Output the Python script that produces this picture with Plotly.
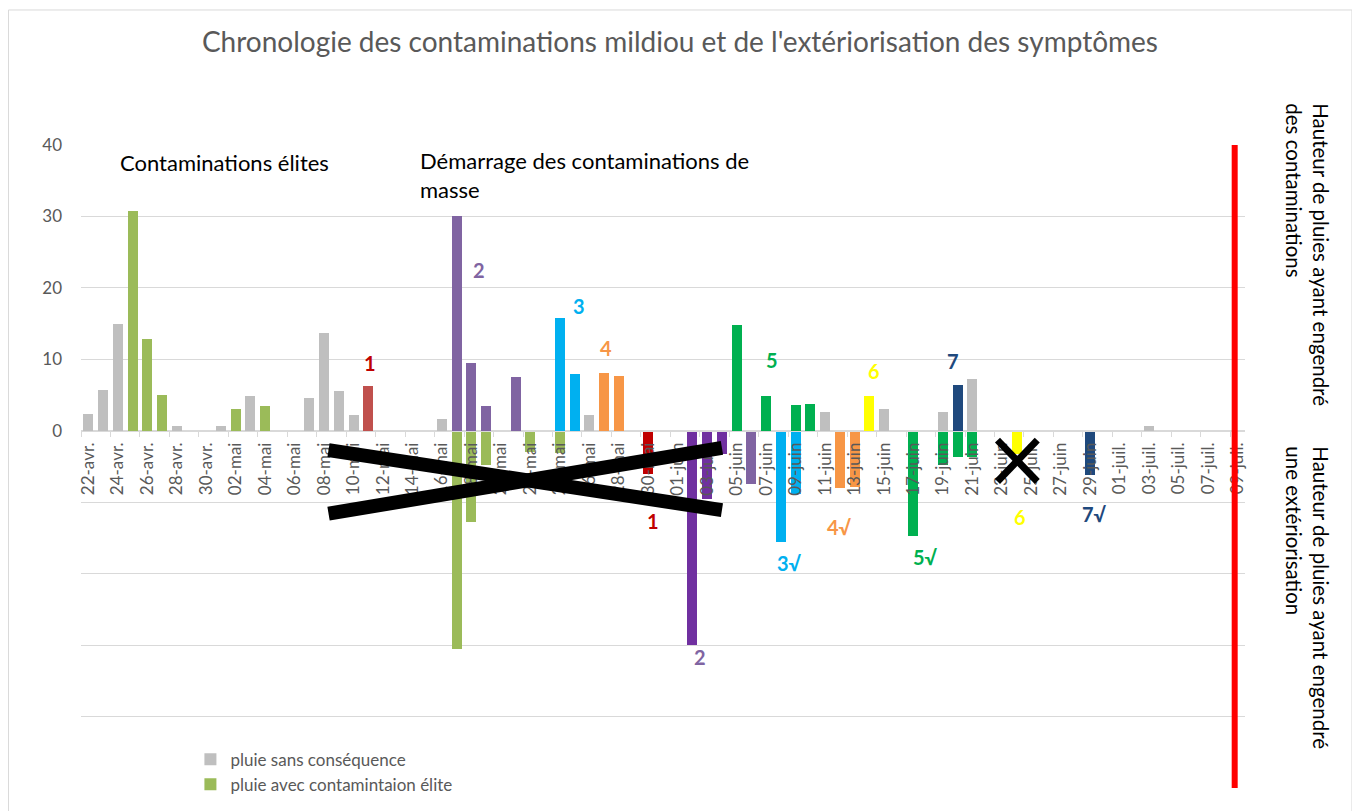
import plotly.graph_objects as go

# ---- categories (daily, 22-avr. -> 09-juil.) ----
categories = ([f"{d:02d}-avr." for d in range(22, 31)] +
              [f"{d:02d}-mai" for d in range(1, 32)] +
              [f"{d:02d}-juin" for d in range(1, 31)] +
              [f"{d:02d}-juil." for d in range(1, 10)])
tick_labels = categories[::2]

# ---- series ----
gray_dates = ["22-avr.", "23-avr.", "24-avr.", "28-avr.", "01-mai", "03-mai", "07-mai", "08-mai",
              "09-mai", "10-mai", "16-mai", "26-mai", "11-juin", "15-juin", "19-juin", "21-juin", "03-juil."]
gray_vals = [2.3, 5.7, 15.0, 0.6, 0.6, 4.9, 4.6, 13.7, 5.5, 2.2, 1.6, 2.2, 2.6, 3.1, 2.6, 7.3, 0.7]

elite_dates = ["25-avr.", "26-avr.", "27-avr.", "02-mai", "04-mai"]
elite_vals = [30.7, 12.8, 5.0, 3.1, 3.4]
elite_neg_dates = ["17-mai", "18-mai", "19-mai", "22-mai", "24-mai"]
elite_neg_vals = [-30.6, -12.7, -4.8, -3.0, -3.1]

c1_dates, c1_vals = ["11-mai"], [6.3]
c1s_dates, c1s_vals = ["30-mai"], [-6.1]
c2_dates, c2_vals = ["17-mai", "18-mai", "19-mai", "21-mai"], [30.1, 9.5, 3.4, 7.5]
c2s_dates, c2s_vals = ["02-juin", "03-juin", "04-juin"], [-30.0, -9.5, -3.2]
c2s_b_dates, c2s_b_vals = ["06-juin"], [-7.4]
c3_dates, c3_vals = ["24-mai", "25-mai"], [15.8, 8.0]
c3s_dates, c3s_vals = ["08-juin", "09-juin"], [-15.6, -8.8]
c4_dates, c4_vals = ["27-mai", "28-mai"], [8.1, 7.7]
c4s_dates, c4s_vals = ["12-juin", "13-juin"], [-8.0, -7.8]
c5_dates, c5_vals = ["05-juin", "07-juin", "09-juin", "10-juin"], [14.8, 4.9, 3.6, 3.8]
c5s_dates, c5s_vals = ["17-juin", "19-juin", "20-juin", "21-juin"], [-14.7, -4.8, -3.6, -3.6]
c6_dates, c6_vals = ["14-juin"], [4.9]
c6s_dates, c6s_vals = ["24-juin"], [-3.2]
c7_dates, c7_vals = ["20-juin"], [6.4]
c7s_dates, c7s_vals = ["29-juin"], [-6.2]

GRAY = "#BFBFBF"
ELITE = "#9BBB59"
FONT = "Lato"
TXT = "#595959"

idx = {c: i for i, c in enumerate(categories)}

fig = go.Figure()


def add(dates, vals, color, name=None, legend=False):
    fig.add_trace(go.Bar(
        x=[idx[d] for d in dates], y=vals, width=0.68,
        marker=dict(color=color, line=dict(width=0)),
        name=name if name else "", showlegend=legend,
        hovertemplate="%{y}<extra></extra>"))


add(gray_dates, gray_vals, GRAY, "pluie sans conséquence", True)
add(elite_dates, elite_vals, ELITE, "pluie avec contamintaion élite", True)
add(elite_neg_dates, elite_neg_vals, ELITE)
add(c1_dates, c1_vals, "#C0504D")
add(c1s_dates, c1s_vals, "#C00000")
add(c2_dates, c2_vals, "#8064A2")
add(c2s_dates, c2s_vals, "#7030A0")
add(c2s_b_dates, c2s_b_vals, "#8064A2")
add(c3_dates, c3_vals, "#00B0F0")
add(c3s_dates, c3s_vals, "#00B0F0")
add(c4_dates, c4_vals, "#F79646")
add(c4s_dates, c4s_vals, "#F79646")
add(c5_dates, c5_vals, "#00B050")
add(c5s_dates, c5s_vals, "#00B050")
add(c6_dates, c6_vals, "#FFFF00")
add(c6s_dates, c6s_vals, "#FFFF00")
add(c7_dates, c7_vals, "#1F497D")
add(c7s_dates, c7s_vals, "#1F497D")

# ---- number labels ----
labels = [
    ("1", 19.1, 9.5, "#C00000"), ("2", 26.5, 22.5, "#8064A2"), ("3", 33.3, 17.5, "#00B0F0"),
    ("4", 35.1, 11.6, "#F79646"), ("5", 46.4, 9.9, "#00B050"), ("6", 53.3, 8.3, "#FFFF00"),
    ("7", 58.7, 9.7, "#1F497D"),
    ("1", 38.3, -12.6, "#C00000"), ("2", 41.5, -31.6, "#8064A2"), ("3√", 47.6, -18.5, "#00B0F0"),
    ("4√", 51.0, -13.4, "#F79646"), ("5√", 56.8, -17.6, "#00B050"), ("6", 63.2, -12.0, "#FFFF00"),
    ("7√", 68.3, -11.7, "#1F497D"),
]
for t, x, y, c in labels:
    fig.add_annotation(x=x, y=y, text=f"<b>{t}</b>", showarrow=False,
                       font=dict(family=FONT, size=20, color=c))

fig.add_annotation(x=2.0, y=37.6, xanchor="left", yanchor="middle", text="Contaminations élites",
                   showarrow=False, font=dict(family=FONT, size=22, color="black"))
fig.add_annotation(x=22.4, y=35.8, xanchor="left", yanchor="middle", align="left",
                   text="Démarrage des contaminations de<br>masse", showarrow=False,
                   font=dict(family=FONT, size=22, color="black"))

fig.add_annotation(xref="paper", yref="paper", x=1.053, y=0.829, xanchor="center", yanchor="middle",
                   textangle=90, align="left",
                   text="Hauteur de pluies ayant engendré<br>des contaminations", showarrow=False,
                   font=dict(family=FONT, size=20.5, color="black"))
fig.add_annotation(xref="paper", yref="paper", x=1.053, y=0.2955, xanchor="center", yanchor="middle",
                   textangle=90, align="left",
                   text="Hauteur de pluies ayant engendré<br>une extériorisation", showarrow=False,
                   font=dict(family=FONT, size=20.5, color="black"))

# ---- shapes ----
shapes = [
    dict(type="line", x0=16.3, y0=-2.7, x1=43.0, y1=-11.1, line=dict(color="black", width=14), layer="above"),
    dict(type="line", x0=16.3, y0=-11.6, x1=43.0, y1=-2.4, line=dict(color="black", width=14), layer="above"),
    dict(type="line", x0=61.7, y0=-1.3, x1=64.4, y1=-7.1, line=dict(color="black", width=7), layer="above"),
    dict(type="line", x0=61.7, y0=-7.1, x1=64.4, y1=-1.3, line=dict(color="black", width=7), layer="above"),
    dict(type="line", x0=77.8, y0=-50, x1=77.8, y1=40, line=dict(color="#FF0000", width=6), layer="above"),
    dict(type="rect", xref="paper", yref="paper", x0=-0.0623, x1=1.0919, y0=-0.06, y1=1.21,
         line=dict(color="#D9D9D9", width=1), layer="below"),
]
fig.update_layout(shapes=shapes)

minor_vals = [i - 0.5 for i in range(0, 80, 2)]
fig.update_layout(
    width=1352, height=803,
    margin=dict(l=73, r=115, t=137, b=23, autoexpand=False),
    paper_bgcolor="white", plot_bgcolor="white",
    barmode="overlay", bargap=0,
    title=dict(text="Chronologie des contaminations mildiou et de l'extériorisation des symptômes",
               x=0.497, xref="container", xanchor="center", y=0.9577, yanchor="middle",
               font=dict(family=FONT, size=28, color=TXT)),
    font=dict(family=FONT, color=TXT),
    xaxis=dict(range=[-0.5, 78.5], anchor="free", position=50 / 90, automargin=False,
               tickmode="array", tickvals=list(range(0, 79, 2)), ticktext=tick_labels,
               tickangle=-90, ticks="", ticklabelstandoff=4,
               tickfont=dict(family=FONT, size=17, color=TXT),
               showline=True, linecolor="#D9D9D9", linewidth=1, showgrid=False, zeroline=False,
               minor=dict(tickmode="array", tickvals=minor_vals, ticks="outside", ticklen=5,
                          tickcolor="#D9D9D9", showgrid=False)),
    yaxis=dict(range=[-50, 40], tickmode="array", tickvals=list(range(-40, 41, 10)), automargin=False,
               ticktext=["", "", "", "", "0", "10", "20", "30", "40"],
               showgrid=True, gridcolor="#D9D9D9", gridwidth=1, zeroline=False, showline=False,
               ticks="", ticklabelstandoff=18, tickfont=dict(family=FONT, size=17, color=TXT)),
    legend=dict(x=0.094, y=0.072, xanchor="left", yanchor="top", bgcolor="rgba(0,0,0,0)",
                font=dict(family=FONT, size=17, color=TXT), tracegroupgap=0, itemwidth=30),
    showlegend=True,
)

fig.write_html("out.html")
